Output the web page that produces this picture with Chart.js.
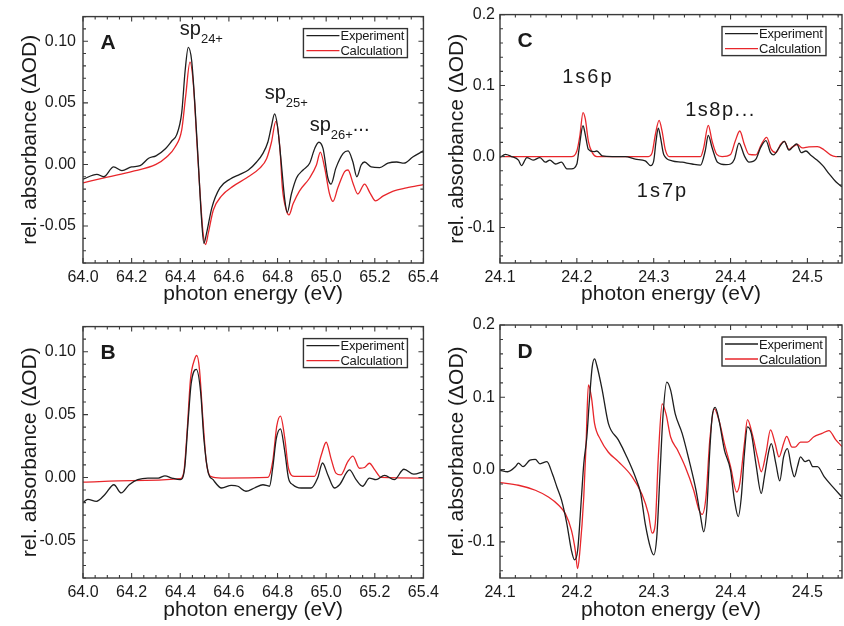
<!DOCTYPE html>
<html>
<head>
<meta charset="utf-8">
<script src="https://cdn.jsdelivr.net/npm/chart.js@4.4.1/dist/chart.umd.min.js"></script>
<style>
  html, body { margin: 0; padding: 0; background: #fff; }
  #fig { position: relative; width: 844px; height: 626px; overflow: hidden; }
  canvas { position: absolute; }
</style>
</head>
<body>
<div id="fig">
  <canvas id="chartA" width="444" height="310" style="left:0;top:0"></canvas>
  <canvas id="chartB" width="444" height="316" style="left:0;top:310px"></canvas>
  <canvas id="chartC" width="424" height="310" style="left:420px;top:0"></canvas>
  <canvas id="chartD" width="424" height="316" style="left:420px;top:310px"></canvas>
</div>
<script>
// tick labels
const ticksHighX = [64.0, 64.2, 64.4, 64.6, 64.8, 65.0, 65.2, 65.4];
const ticksHighY = [-0.05, 0.0, 0.05, 0.10];
const ticksHeX = [24.1, 24.2, 24.3, 24.4, 24.5];
const ticksHeY = [-0.1, 0.0, 0.1, 0.2];

// panel A - experiment / calculation
const aExpE = [64.0, 64.057, 64.085, 64.126, 64.16, 64.2, 64.235, 64.27, 64.3, 64.34,
  64.365, 64.385, 64.406, 64.42, 64.433, 64.447, 64.46, 64.474, 64.487, 64.497,
  64.508, 64.53, 64.563, 64.604, 64.645, 64.68, 64.714, 64.74, 64.76, 64.775,
  64.788, 64.8, 64.815, 64.83, 64.84, 64.857, 64.878, 64.905, 64.932, 64.953,
  64.97, 64.987, 65.007, 65.02, 65.04, 65.07, 65.09, 65.11, 65.126, 65.144,
  65.158, 65.185, 65.22, 65.254, 65.29, 65.32, 65.356, 65.4];
const aExp = [-0.012, -0.008, -0.010, -0.002, -0.005, -0.002, -0.001, 0.005, 0.007, 0.013,
  0.019, 0.024, 0.042, 0.076, 0.095, 0.084, 0.049, 0.002, -0.043, -0.064,
  -0.056, -0.035, -0.019, -0.012, -0.008, -0.0045, 0.002, 0.009, 0.018, 0.031,
  0.041, 0.031, 0.002, -0.029, -0.039, -0.024, -0.011, -0.0045, 0.001, 0.013,
  0.018, 0.013, -0.011, -0.016, -0.003, 0.009, 0.011, 0.002, -0.010, -0.0005,
  0.002, -0.002, -0.0026, 0.001, 0.002, 0.001, 0.006, 0.011];
const aCalcE = [64.0, 64.1, 64.2, 64.3, 64.344, 64.378, 64.406, 64.422, 64.44, 64.454,
  64.467, 64.48, 64.494, 64.504, 64.515, 64.536, 64.57, 64.618, 64.672, 64.727,
  64.755, 64.775, 64.793, 64.81, 64.82, 64.836, 64.847, 64.864, 64.89, 64.932,
  64.96, 64.976, 64.994, 65.014, 65.028, 65.048, 65.076, 65.09, 65.11, 65.13,
  65.158, 65.18, 65.203, 65.235, 65.276, 65.33, 65.4];
const aCalc = [-0.015, -0.0103, -0.0058, 0.0, 0.006, 0.014, 0.028, 0.055, 0.083, 0.065,
  0.023, -0.019, -0.056, -0.065, -0.056, -0.037, -0.0255, -0.0176, -0.011, -0.003,
  0.0047, 0.018, 0.035, 0.0126, -0.019, -0.037, -0.041, -0.032, -0.0216, -0.011,
  -0.0005, 0.010, -0.003, -0.024, -0.030, -0.019, -0.0058, -0.0045, -0.015, -0.024,
  -0.016, -0.023, -0.0295, -0.0255, -0.0216, -0.019, -0.0163];

// panel B
const bExpE = [64.0, 64.02, 64.055, 64.09, 64.127, 64.157, 64.19, 64.225, 64.267, 64.31,
  64.337, 64.366, 64.4, 64.418, 64.432, 64.445, 64.466, 64.484, 64.497, 64.514,
  64.535, 64.57, 64.61, 64.637, 64.67, 64.705, 64.74, 64.767, 64.78, 64.795,
  64.812, 64.83, 64.845, 64.863, 64.897, 64.938, 64.965, 64.985, 65.007, 65.034,
  65.055, 65.096, 65.123, 65.15, 65.178, 65.205, 65.24, 65.28, 65.32, 65.36,
  65.4];
const bExp = [-0.020, -0.0175, -0.019, -0.0136, -0.0058, -0.0123, -0.0058, -0.0018, -0.0005, -0.0005,
  0.0013, -0.0005, -0.0018, 0.0073, 0.044, 0.075, 0.086, 0.0675, 0.031, 0.0047,
  -0.0018, -0.0084, -0.0063, -0.007, -0.011, -0.0084, -0.0058, -0.007, 0.0073, 0.031,
  0.0387, 0.0204, -0.0005, -0.0058, -0.0084, -0.0084, -0.0005, 0.0115, 0.002, -0.0084,
  -0.0058, 0.006, -0.0018, -0.007, -0.0005, -0.0018, 0.0016, -0.0018, 0.0065, 0.0026,
  0.0047];
const bCalcE = [64.0, 64.2, 64.4, 64.415, 64.428, 64.442, 64.459, 64.468, 64.479, 64.493,
  64.507, 64.525, 64.57, 64.76, 64.78, 64.797, 64.812, 64.83, 64.845, 64.87,
  64.952, 64.98, 65.0, 65.02, 65.04, 65.06, 65.089, 65.11, 65.137, 65.158,
  65.178, 65.2, 65.226, 65.4];
const bCalc = [-0.0037, -0.0026, -0.001, 0.0047, 0.036, 0.078, 0.094, 0.097, 0.086, 0.0466,
  0.0126, 0.0008, -0.0005, 0.0, 0.0126, 0.041, 0.0487, 0.031, 0.0073, 0.0008,
  0.0008, 0.0178, 0.028, 0.015, 0.0034, 0.002, 0.0126, 0.017, 0.0073, 0.0079,
  0.0113, 0.006, 0.0, -0.0005];

// panel C
const cExpE = [24.1, 24.107, 24.115, 24.124, 24.128, 24.135, 24.143, 24.152, 24.159, 24.165,
  24.172, 24.18, 24.187, 24.193, 24.2, 24.203, 24.208, 24.211, 24.215, 24.222,
  24.226, 24.233, 24.246, 24.263, 24.276, 24.289, 24.296, 24.3, 24.303, 24.306,
  24.309, 24.313, 24.324, 24.337, 24.35, 24.361, 24.367, 24.371, 24.376, 24.383,
  24.394, 24.4, 24.405, 24.411, 24.418, 24.424, 24.433, 24.439, 24.446, 24.452,
  24.456, 24.463, 24.47, 24.476, 24.48, 24.486, 24.492, 24.498, 24.504, 24.511,
  24.52, 24.528, 24.537, 24.545];
const cExp = [-0.0014, 0.003, 0.0, -0.005, -0.0128, -0.0014, -0.005, -0.0014, -0.008, -0.005,
  -0.0105, -0.008, -0.0174, -0.0174, -0.0105, 0.012, 0.0434, 0.0306, 0.01, 0.0068,
  0.0078, 0.0009, 0.0, 0.0, -0.0037, -0.006, -0.0128, -0.006, 0.0215, 0.040,
  0.026, 0.003, -0.006, -0.008, -0.0105, -0.012, 0.0078, 0.0297, 0.0123, -0.008,
  -0.0114, -0.0105, -0.0037, 0.019, 0.0009, -0.008, -0.0037, 0.0123, 0.0224, 0.0055,
  0.0023, 0.0123, 0.0215, 0.009, 0.0123, 0.0178, 0.0055, 0.0078, 0.0023, -0.0037,
  -0.0128, -0.024, -0.0356, -0.0425];
const cCalcE = [24.1, 24.193, 24.2, 24.204, 24.208, 24.211, 24.215, 24.22, 24.226, 24.293,
  24.298, 24.302, 24.307, 24.311, 24.315, 24.32, 24.361, 24.365, 24.371, 24.376,
  24.382, 24.389, 24.4, 24.406, 24.412, 24.418, 24.424, 24.433, 24.44, 24.447,
  24.453, 24.459, 24.465, 24.47, 24.476, 24.48, 24.487, 24.493, 24.502, 24.513,
  24.521, 24.53, 24.537, 24.545];
const cCalc = [0, 0, 0.0078, 0.030, 0.062, 0.053, 0.0215, 0.0055, 0, 0,
  0.0055, 0.030, 0.051, 0.035, 0.010, 0, 0, 0.0123, 0.044, 0.0215,
  0.003, 0, 0.003, 0.0215, 0.036, 0.017, 0.003, 0.0023, 0.017, 0.027,
  0.010, 0.0055, 0.017, 0.0215, 0.010, 0.0132, 0.017, 0.0123, 0.0137, 0.014,
  0.010, 0.0023, 0, 0];

// panel D
const dExpE = [24.1, 24.11, 24.12, 24.124, 24.13, 24.139, 24.146, 24.152, 24.161, 24.168,
  24.174, 24.18, 24.187, 24.193, 24.197, 24.201, 24.206, 24.209, 24.213, 24.216,
  24.22, 24.223, 24.226, 24.233, 24.241, 24.254, 24.265, 24.276, 24.283, 24.289,
  24.296, 24.3, 24.304, 24.308, 24.312, 24.317, 24.322, 24.328, 24.337, 24.346,
  24.355, 24.361, 24.365, 24.369, 24.373, 24.376, 24.38, 24.385, 24.392, 24.4,
  24.405, 24.41, 24.414, 24.418, 24.422, 24.427, 24.433, 24.44, 24.444, 24.45,
  24.453, 24.459, 24.464, 24.469, 24.474, 24.479, 24.483, 24.487, 24.491, 24.497,
  24.502, 24.507, 24.513, 24.522, 24.533, 24.545];
const dExp = [-0.001, -0.003, 0.004, 0.009, 0.004, 0.013, 0.014, 0.008, 0.011, -0.0055,
  -0.024, -0.042, -0.075, -0.112, -0.125, -0.112, -0.038, 0.008, 0.045, 0.091,
  0.142, 0.153, 0.144, 0.110, 0.064, 0.041, 0.0175, -0.010, -0.033, -0.075,
  -0.109, -0.118, -0.093, -0.010, 0.073, 0.121, 0.110, 0.077, 0.050, 0.013,
  -0.0286, -0.065, -0.086, -0.056, 0.027, 0.073, 0.086, 0.068, 0.027, -0.001,
  -0.042, -0.065, -0.038, 0.022, 0.059, 0.050, 0.008, -0.033, -0.010, 0.027,
  0.036, 0.008, -0.0157, 0.0175, 0.029, 0.004, -0.010, 0.004, 0.0175, 0.011,
  0.013, 0.004, 0.004, -0.010, -0.024, -0.038];
const dCalcE = [24.1, 24.124, 24.146, 24.163, 24.176, 24.185, 24.193, 24.198, 24.201, 24.204,
  24.209, 24.212, 24.215, 24.219, 24.223, 24.231, 24.241, 24.254, 24.272, 24.285,
  24.293, 24.298, 24.302, 24.306, 24.311, 24.316, 24.322, 24.331, 24.341, 24.352,
  24.359, 24.363, 24.368, 24.373, 24.379, 24.385, 24.392, 24.4, 24.408, 24.412,
  24.418, 24.422, 24.428, 24.435, 24.44, 24.446, 24.452, 24.458, 24.463, 24.469,
  24.473, 24.48, 24.484, 24.491, 24.5, 24.508, 24.519, 24.528, 24.537, 24.545];
const dCalc = [-0.018, -0.0217, -0.0286, -0.038, -0.049, -0.061, -0.084, -0.112, -0.137, -0.112,
  -0.038, 0.036, 0.117, 0.100, 0.064, 0.041, 0.024, 0.011, -0.010, -0.035,
  -0.061, -0.088, -0.075, 0.0175, 0.091, 0.077, 0.045, 0.027, 0.004, -0.0286,
  -0.056, -0.062, -0.038, 0.041, 0.084, 0.068, 0.036, 0.004, -0.031, -0.019,
  0.036, 0.069, 0.050, 0.0175, -0.003, 0.022, 0.055, 0.036, 0.0175, 0.036,
  0.046, 0.031, 0.031, 0.038, 0.038, 0.045, 0.050, 0.054, 0.041, 0.032];

const seriesNames = ["Experiment", "Calculation"];
const seriesColors = ["#1e1e1e", "#e8262b"];
const FONT = "'Liberation Sans', Arial, Helvetica, sans-serif";
const INK = "#1a1a1a";

Chart.defaults.font.family = FONT;
Chart.defaults.color = INK;

// frame with inward ticks on all sides, panel letter, legend box and peak labels
const framePlugin = {
  id: "frame",
  afterDraw(chart, args, opts) {
    const { ctx, chartArea: a, scales: { x, y } } = chart;
    ctx.save();
    ctx.strokeStyle = "#3a3a3a";
    ctx.lineWidth = 1.4;
    ctx.strokeRect(a.left, a.top, a.right - a.left, a.bottom - a.top);

    ctx.lineWidth = 1.1;
    const marks = (scale, step, majors) => {
      const out = [];
      const k0 = Math.ceil(scale.min / step - 1e-6), k1 = Math.floor(scale.max / step + 1e-6);
      for (let k = k0; k <= k1; k++) {
        const v = k * step;
        const major = majors.some(m => Math.abs(m - v) < step / 10);
        out.push({ p: scale.getPixelForValue(v), len: major ? 5 : 3 });
      }
      return out;
    };
    ctx.beginPath();
    for (const t of marks(x, opts.xMinor, opts.xMajor)) {
      ctx.moveTo(t.p, a.bottom); ctx.lineTo(t.p, a.bottom - t.len);
      ctx.moveTo(t.p, a.top); ctx.lineTo(t.p, a.top + t.len);
    }
    for (const t of marks(y, opts.yMinor, opts.yMajor)) {
      ctx.moveTo(a.left, t.p); ctx.lineTo(a.left + t.len, t.p);
      ctx.moveTo(a.right, t.p); ctx.lineTo(a.right - t.len, t.p);
    }
    ctx.stroke();

    // panel letter
    ctx.fillStyle = INK;
    ctx.font = "bold 21px " + FONT;
    ctx.textAlign = "center";
    ctx.textBaseline = "middle";
    ctx.fillText(opts.letter, a.left + 25, a.top + 27);

    // legend
    const bw = 104, bh = 29;
    const bx = a.right - 16 - bw, by = a.top + 12;
    ctx.fillStyle = "#fff";
    ctx.fillRect(bx, by, bw, bh);
    ctx.strokeStyle = "#333";
    ctx.lineWidth = 1.4;
    ctx.strokeRect(bx, by, bw, bh);
    ctx.font = "13px " + FONT;
    ctx.textAlign = "left";
    if ("letterSpacing" in ctx) ctx.letterSpacing = "-0.2px";
    chart.data.datasets.forEach((ds, i) => {
      const ly = by + 7 + i * 15;
      ctx.strokeStyle = ds.borderColor;
      ctx.lineWidth = 1.3;
      ctx.beginPath();
      ctx.moveTo(bx + 3, ly); ctx.lineTo(bx + 36, ly);
      ctx.stroke();
      ctx.fillStyle = INK;
      ctx.fillText(ds.label, bx + 37, ly + 1);
    });

    // peak labels
    ctx.textBaseline = "alphabetic";
    for (const n of opts.notes) {
      if ("letterSpacing" in ctx) ctx.letterSpacing = (n.spacing || 0) + "px";
      let px = x.getPixelForValue(n.x);
      const py = y.getPixelForValue(n.y);
      ctx.font = "20px " + FONT;
      ctx.fillText(n.main, px, py);
      px += ctx.measureText(n.main).width;
      if (n.sub) {
        ctx.font = "13px " + FONT;
        ctx.fillText(n.sub, px, py + 8);
        px += ctx.measureText(n.sub).width;
      }
      if (n.tail) {
        ctx.font = "20px " + FONT;
        ctx.fillText(n.tail, px, py);
      }
    }
    if ("letterSpacing" in ctx) ctx.letterSpacing = "0px";
    ctx.restore();
  }
};

function series(xs, ys) {
  return xs.map((v, i) => ({ x: v, y: ys[i] }));
}

function makePanel(id, p) {
  const datasets = [[p.expE, p.exp], [p.calcE, p.calc]].map((s, i) => ({
    label: seriesNames[i],
    data: series(s[0], s[1]),
    borderColor: seriesColors[i],
    borderWidth: 1.3,
    pointRadius: 0,
    fill: false,
    cubicInterpolationMode: "monotone"
  }));
  return new Chart(document.getElementById(id), {
    type: "line",
    data: { datasets },
    plugins: [framePlugin],
    options: {
      responsive: false,
      animation: false,
      events: [],
      layout: { autoPadding: false, padding: { left: 0, right: p.padRight, top: p.padTop, bottom: 0 } },
      plugins: {
        legend: { display: false },
        tooltip: { enabled: false },
        frame: {
          letter: p.letter, notes: p.notes,
          xMajor: p.xTicks, yMajor: p.yTicks, xMinor: p.xMinor, yMinor: p.yMinor
        }
      },
      scales: {
        x: {
          type: "linear", min: p.xMin, max: p.xMax,
          grid: { display: false, drawTicks: false }, border: { display: false },
          afterBuildTicks: s => { s.ticks = p.xTicks.map(v => ({ value: v })); },
          afterFit: s => { s.height = p.xHeight; },
          ticks: { font: { size: 16 }, color: INK, padding: 5, maxRotation: 0, autoSkip: false,
                   callback: v => v.toFixed(1) },
          title: { display: true, text: "photon energy (eV)", font: { size: 21 }, color: INK,
                   padding: { top: 0, bottom: 3 } }
        },
        y: {
          type: "linear", min: p.yMin, max: p.yMax,
          grid: { display: false, drawTicks: false }, border: { display: false },
          afterBuildTicks: s => { s.ticks = p.yTicks.map(v => ({ value: v })); },
          afterFit: s => { s.width = p.yWidth; },
          ticks: { font: { size: 16 }, color: INK, padding: p.yPad, autoSkip: false,
                   callback: v => v.toFixed(p.yDigits) },
          title: { display: true, text: "rel. absorbance (ΔOD)", font: { size: 21 }, color: INK,
                   padding: { top: p.yTitlePad, bottom: 0 } }
        }
      }
    }
  });
}

makePanel("chartA", {
  letter: "A", expE: aExpE, exp: aExp, calcE: aCalcE, calc: aCalc,
  xMin: 64.0, xMax: 65.4, yMin: -0.08, yMax: 0.12,
  xTicks: ticksHighX, yTicks: ticksHighY, xMinor: 0.05, yMinor: 0.01, yDigits: 2,
  padRight: 20, padTop: 10, yWidth: 83, xHeight: 47, yPad: 7, yTitlePad: 18,
  notes: [
    { x: 64.398, y: 0.105, main: "sp", sub: "24+" },
    { x: 64.747, y: 0.0528, main: "sp", sub: "25+" },
    { x: 64.932, y: 0.0275, main: "sp", sub: "26+", tail: "..." }
  ]
});

makePanel("chartB", {
  letter: "B", expE: bExpE, exp: bExp, calcE: bCalcE, calc: bCalc,
  xMin: 64.0, xMax: 65.4, yMin: -0.08, yMax: 0.12,
  xTicks: ticksHighX, yTicks: ticksHighY, xMinor: 0.05, yMinor: 0.01, yDigits: 2,
  padRight: 20, padTop: 13, yWidth: 83, xHeight: 48, yPad: 7, yTitlePad: 18,
  notes: []
});

makePanel("chartC", {
  letter: "C", expE: cExpE, exp: cExp, calcE: cCalcE, calc: cCalc,
  xMin: 24.1, xMax: 24.545, yMin: -0.15, yMax: 0.2,
  xTicks: ticksHeX, yTicks: ticksHeY, xMinor: 0.02, yMinor: 0.02, yDigits: 1,
  padRight: 2, padTop: 10, yWidth: 80, xHeight: 47, yPad: 5, yTitlePad: 25,
  notes: [
    { x: 24.181, y: 0.103, main: "1s6p", spacing: 2 },
    { x: 24.341, y: 0.0575, main: "1s8p...", spacing: 1.5 },
    { x: 24.278, y: -0.057, main: "1s7p", spacing: 2 }
  ]
});

makePanel("chartD", {
  letter: "D", expE: dExpE, exp: dExp, calcE: dCalcE, calc: dCalc,
  xMin: 24.1, xMax: 24.545, yMin: -0.15, yMax: 0.2,
  xTicks: ticksHeX, yTicks: ticksHeY, xMinor: 0.02, yMinor: 0.02, yDigits: 1,
  padRight: 2, padTop: 15, yWidth: 80, xHeight: 48, yPad: 5, yTitlePad: 25,
  notes: []
});
</script>
</body>
</html>
